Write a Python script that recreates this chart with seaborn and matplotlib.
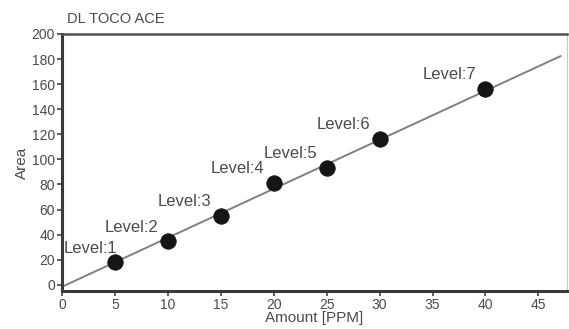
import matplotlib
matplotlib.use("Agg")
import matplotlib.pyplot as plt
import pandas as pd
import seaborn as sns

# calibration levels
levels = ["Level:1", "Level:2", "Level:3", "Level:4", "Level:5", "Level:6", "Level:7"]
amount = [5, 10, 15, 20, 25, 30, 40]
area = [18.5, 34.5, 54.5, 81.5, 93, 116, 156]

# regression line end points
fit_amount = [0, 47.1]
fit_area = [-1.6, 182.4]

x_ticks = [0, 5, 10, 15, 20, 25, 30, 35, 40, 45]
y_ticks = [0, 20, 40, 60, 80, 100, 120, 140, 160, 180, 200]

sns.set_style("ticks")
plt.rcParams["font.family"] = ["Liberation Sans", "DejaVu Sans"]

text_col = "#4a4a4a"

fig = plt.figure(figsize=(5.69, 3.29), dpi=100)
ax = fig.add_axes([0.109, 0.1155, 0.8875, 0.7812])

points = pd.DataFrame({"level": levels, "amount": amount, "area": area})
fit = pd.DataFrame({"amount": fit_amount, "area": fit_area})

sns.lineplot(data=fit, x="amount", y="area", ax=ax, color="#808080", linewidth=1.4, zorder=2)
sns.scatterplot(data=points, x="amount", y="area", ax=ax, color="#151515", s=125,
                edgecolor="#151515", linewidth=0.5, zorder=3)

offsets = {"Level:1": (2, 4)}
for lbl, x, y in zip(levels, amount, area):
    dx, dy = offsets.get(lbl, (-7, 5))
    ax.annotate(lbl, (x, y), xytext=(dx, dy), textcoords="offset points",
                ha="right", va="bottom", fontsize=12, color=text_col)

ax.set_xlim(0, 47.7)
ax.set_ylim(-5, 200)
ax.set_xticks(x_ticks)
ax.set_yticks(y_ticks)
ax.tick_params(axis="both", labelsize=10, labelcolor=text_col, color="#444444",
               length=3.5, width=1.2, pad=1.5)

ax.set_xlabel("Amount [PPM]", fontsize=11, color=text_col, labelpad=-1)
ax.set_ylabel("Area", fontsize=11, color=text_col, labelpad=2)

for side in ["left", "bottom"]:
    ax.spines[side].set_linewidth(2.2)
    ax.spines[side].set_color("#3a3a3a")
ax.spines["top"].set_visible(True)
ax.spines["top"].set_linewidth(1.8)
ax.spines["top"].set_color("#505050")
ax.spines["right"].set_visible(True)
ax.spines["right"].set_linewidth(0.8)
ax.spines["right"].set_color("#c8c8c8")

fig.text(67 / 569, 1 - 19 / 329, "DL TOCO ACE", fontsize=10.5, color=text_col,
         ha="left", va="center")

fig.savefig("out.png", dpi=100)
